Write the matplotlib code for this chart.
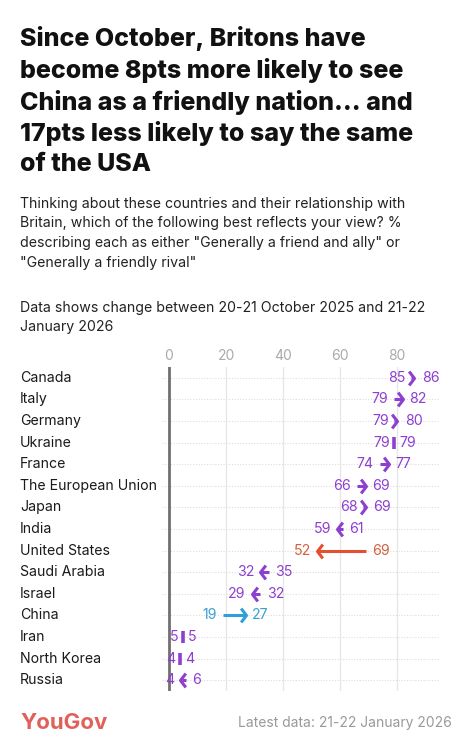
import matplotlib.pyplot as plt
import matplotlib.transforms as mtransforms
from matplotlib.path import Path

countries = ['Canada', 'Italy', 'Germany', 'Ukraine', 'France', 'The European Union',
             'Japan', 'India', 'United States', 'Saudi Arabia', 'Israel', 'China',
             'Iran', 'North Korea', 'Russia']
oct_2025 = [85, 79, 79, 79, 74, 66, 68, 61, 69, 35, 32, 19, 5, 4, 6]
jan_2026 = [86, 82, 80, 79, 77, 69, 69, 59, 52, 32, 29, 27, 5, 4, 4]
xticks = [0, 20, 40, 60, 80]

purple = '#8D3FD0'
colors = {'United States': '#E2502F', 'China': '#2E9FD8'}
label_colors = {'United States': '#D4603E', 'China': '#3A9FD3'}

plt.rcParams['font.family'] = ['Inter', 'DejaVu Sans']

fig = plt.figure(figsize=(4.71, 7.5), dpi=100)
ax = fig.add_axes([150 / 471, 1 - 691 / 750, 290 / 471, 324 / 750])
ax.set_xlim(-6.67, 95)
ax.set_ylim(14.5, -0.5)

# chevron markers, tip at the origin
chev_r = Path([(-1, 1.3), (0, 0), (-1, -1.3)], [Path.MOVETO, Path.LINETO, Path.LINETO])
chev_l = Path([(1, 1.3), (0, 0), (1, -1.3)], [Path.MOVETO, Path.LINETO, Path.LINETO])

for x in xticks[1:]:
    ax.axvline(x, color='#e6e6e6', lw=0.9, zorder=0)
ax.axvline(0, color='#707070', lw=2, zorder=1)

trans = mtransforms.blended_transform_factory(fig.transFigure, ax.transData)
for i, c in enumerate(countries):
    a, b = oct_2025[i], jan_2026[i]
    col = colors.get(c, purple)
    lcol = label_colors.get(c, purple)
    ax.plot([-2.5, 94.4], [i, i], color='#dddddd', lw=0.8, ls=(0, (1, 1.5)), zorder=0)
    ax.text(20 / 471, i, c, transform=trans, va='center', ha='left', fontsize=10.2, color='#1a1a1a')
    lo, hi = min(a, b), max(a, b)
    if a == b:
        ax.plot([a], [i], marker='|', ms=8, mew=2.6, color=col, zorder=3)
        glo, ghi = 1.6, 1.6
    else:
        step = 1 if b > a else -1
        ax.plot([a, b - 0.4 * step], [i, i], color=col, lw=2.2, solid_capstyle='butt', zorder=3)
        m = chev_r if b > a else chev_l
        ax.plot([b], [i], marker=m, ms=10, mew=2.2, mfc='none', color=col,
                solid_joinstyle='miter', zorder=3)
        if abs(b - a) < 2:
            glo, ghi = (2.0, 2.6) if b > a else (2.6, 2.0)
        else:
            glo, ghi = 2.2, 2.2
    ax.text(lo - glo, i, str(lo), ha='right', va='center', fontsize=10.2, color=lcol)
    ax.text(hi + ghi, i, str(hi), ha='left', va='center', fontsize=10.2, color=lcol)

ax.xaxis.tick_top()
ax.set_xticks(xticks)
ax.set_xticklabels([str(x) for x in xticks])
ax.tick_params(axis='x', length=0, pad=3, labelsize=10, labelcolor='#aaaaaa')
ax.set_yticks([])
for s in ax.spines.values():
    s.set_visible(False)

title = ('Since October, Britons have\nbecome 8pts more likely to see\n'
         'China as a friendly nation... and\n17pts less likely to say the same\nof the USA')
fig.text(20 / 471, 1 - 26 / 750, title, ha='left', va='top', fontsize=18,
         fontweight='heavy', color='#111111', linespacing=1.34)
sub = ('Thinking about these countries and their relationship with\n'
       'Britain, which of the following best reflects your view? %\n'
       'describing each as either "Generally a friend and ally" or\n'
       '"Generally a friendly rival"')
fig.text(20 / 471, 1 - 197 / 750, sub, ha='left', va='top', fontsize=10.2,
         color='#222222', linespacing=1.5)
fig.text(20 / 471, 1 - 301 / 750,
         'Data shows change between 20-21 October 2025 and 21-22\nJanuary 2026',
         ha='left', va='top', fontsize=10.2, color='#222222', linespacing=1.5)

fig.text(20 / 471, 1 - 723 / 750, 'YouGov', ha='left', va='center', fontsize=16,
         fontweight='bold', color='#E0615A')
fig.text(452 / 471, 1 - 723 / 750, 'Latest data: 21-22 January 2026', ha='right',
         va='center', fontsize=10, color='#999999')

fig.savefig('out.png', dpi=100, facecolor='white')
